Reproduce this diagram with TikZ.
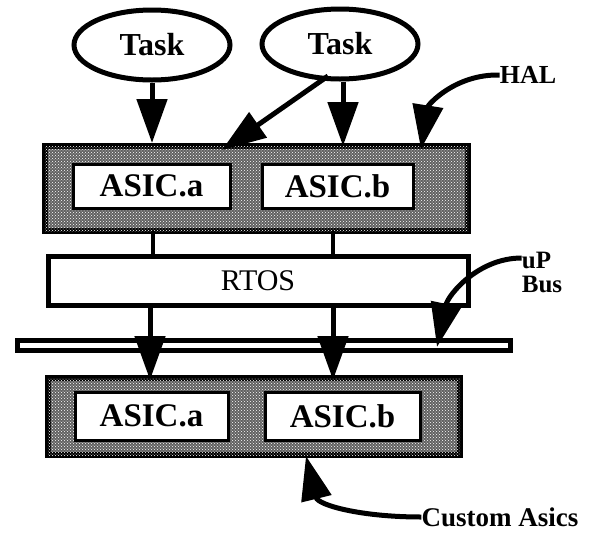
\documentclass[tikz,border=0pt]{standalone}
\usepackage{fontspec}
\setmainfont{Liberation Serif}
\usetikzlibrary{arrows.meta,shapes.geometric,patterns}
\begin{document}
\begin{tikzpicture}[x=1pt,y=-1pt,
  taskell/.style={ellipse,draw,line width=5pt,minimum width=156pt,minimum height=70pt,inner sep=0pt,font=\fontsize{32}{34}\selectfont\bfseries},
  halbox/.style={rectangle,draw,line width=6pt,fill=black!62,postaction={pattern=crosshatch dots,pattern color=white},inner sep=0pt},
  asicbox/.style={rectangle,draw,line width=3pt,fill=white,inner sep=0pt,minimum height=44pt,font=\fontsize{33}{35}\selectfont\bfseries},
  rtosbox/.style={rectangle,draw,line width=5pt,fill=white,inner sep=0pt,font=\fontsize{30}{32}\selectfont},
  busbox/.style={rectangle,draw,line width=5pt,fill=white,inner sep=0pt},
  lbl/.style={font=\fontsize{24}{24}\selectfont\bfseries,inner sep=0pt},
  bigarrow/.style={line width=5pt,-{Triangle[length=44pt,width=30pt]}},
  conn/.style={line width=4pt}
]
\useasboundingbox (0,0) rectangle (596,544);
% tasks
\node[taskell] (t1) at (152,45) {Task};
\node[taskell] (t2) at (340,44) {Task};
\node[lbl,font=\fontsize{26}{26}\selectfont\bfseries] (hal) at (528,75) {HAL};
% top HAL box
\node[halbox,minimum width=423pt,minimum height=85pt] (top) at (256.5,188.5) {};
\node[asicbox,minimum width=157pt] (a1) at (151.5,186) {ASIC.a};
\node[asicbox,minimum width=151pt] (b1) at (337.5,186) {ASIC.b};
% RTOS
\node[rtosbox,minimum width=420pt,minimum height=49pt] (rtos) at (258,281) {RTOS};
% bus
\node[busbox,minimum width=493pt,minimum height=10pt] (bus) at (263.5,345) {};
\node[lbl,align=left,font=\fontsize{25}{24}\selectfont\bfseries] (up) at (542,272) {uP\\Bus};
% bottom box
\node[halbox,minimum width=412pt,minimum height=77pt] (bot) at (254,416.5) {};
\node[asicbox,minimum width=153pt,minimum height=48pt] (a2) at (151.5,416) {ASIC.a};
\node[asicbox,minimum width=155pt,minimum height=48pt] (b2) at (342.5,416) {ASIC.b};
\node[lbl,font=\fontsize{27}{27}\selectfont\bfseries] (cust) at (500,517) {Custom Asics};
% coordinates
\coordinate (t2d) at (328,76);
\coordinate (diagtip) at (222,150);
% arrows from tasks
\draw[bigarrow] (t1.south) -- (t1.south |- top.north);
\draw[bigarrow] (t2.south -| 343,0) -- (343,146);
\draw[bigarrow] (t2d) -- (diagtip);
% HAL arrow
\coordinate (haltip) at (421,149);
\draw[bigarrow] (hal.west) .. controls (455,74) and (428,105) .. (haltip);
% connectors top box to RTOS
\draw[conn] (153,231) -- (153,257);
\draw[conn] (333,231) -- (333,257);
% RTOS to bottom box
\draw[bigarrow] (150,305) -- (150,380);
\draw[bigarrow] (333,305) -- (333,380);
% uP Bus arrow
\coordinate (bustip) at (437,347);
\draw[bigarrow] (up.west |- 0,258) .. controls (478,258) and (448,295) .. (bustip);
% Custom Asics arrow
\coordinate (custtip) at (306,456);
\draw[bigarrow] (cust.west) .. controls (360,517) and (318,505) .. (custtip);
\end{tikzpicture}
\end{document}
